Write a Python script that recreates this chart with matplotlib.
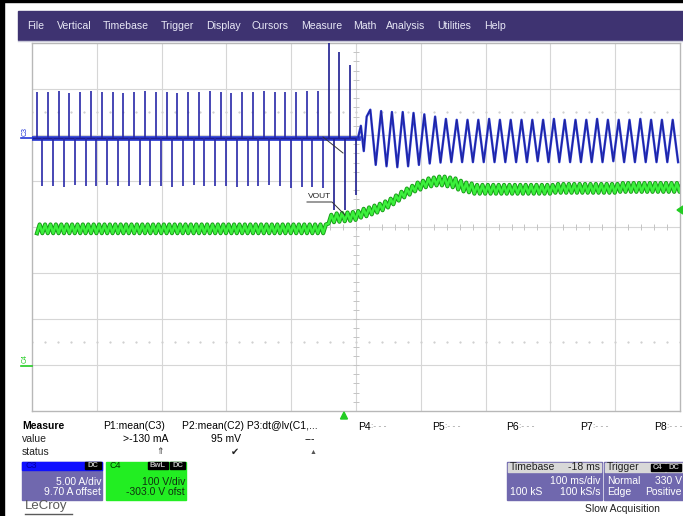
import numpy as np
import matplotlib.pyplot as plt
from matplotlib.patches import Rectangle, Polygon

plt.rcParams['font.family'] = ['Liberation Sans', 'DejaVu Sans']

# ---- labels -------------------------------------------------------------
menu_items = ["File", "Vertical", "Timebase", "Trigger", "Display", "Cursors",
              "Measure", "Math", "Analysis", "Utilities", "Help"]
menu_x = [27, 57, 103, 161, 206, 251, 301, 353, 386, 437, 484]

meas_heads = ["P1:mean(C3)", "P2:mean(C2)", "P3:dt@lv(C1,..."]
meas_values = [">-130 mA", "95 mV", "---"]
more_params = ["P4", "P5", "P6", "P7", "P8"]

# ---- traces --------------------------------------------------------------
# time in ms from left edge of screen (100 ms/div), amplitude in divisions
half_cycle = 8.333          # 60 Hz mains -> one event per half cycle
t_first = 7.7

# C3: line current, pulses alternate up / down around the baseline
c3_base = 1.93
c3_pulse_tips = [2.93, 0.89, 2.93, 0.89, 2.95, 0.87, 2.92, 0.91, 2.93, 0.89,
                 2.95, 0.89, 2.93, 0.91, 2.93, 0.89, 2.92, 0.89, 2.93, 0.91,
                 2.95, 0.89, 2.93, 0.89, 2.93, 0.87, 2.92, 0.89, 2.93, 0.91,
                 2.93, 0.89, 2.95, 0.89, 2.93, 0.89, 2.92, 0.87, 2.93, 0.89,
                 2.93, 0.89, 2.95, 0.91, 2.93, 0.89, 2.93, 0.85, 2.93, 0.87,
                 2.95, 0.87, 2.95, 0.85]
# switch-over spikes
c3_spike_t = [457.7, 466.0, 474.4, 482.7, 491.0, 499.4]
c3_spike_tips = [4.3, 0.37, 3.8, 0.37, 3.52, 0.70]
# ringing right after the switch, then the sine
c3_settle_t = [503.0, 507.5, 512.0, 516.5]
c3_settle = [1.93, 2.20, 1.65, 2.40]
c3_sine_t0 = 522.1
c3_sine_ext = [2.55, 1.35, 2.52, 1.32, 2.50, 1.30, 2.50, 1.32, 2.48, 1.35,
               2.45, 1.38, 2.40, 1.40, 2.35, 1.41, 2.33, 1.41, 2.33, 1.41,
               2.33, 1.41, 2.35, 1.41, 2.33, 1.41, 2.33, 1.41, 2.33, 1.41,
               2.33, 1.43, 2.33, 1.41, 2.35, 1.41, 2.33, 1.41, 2.33, 1.41,
               2.33, 1.41, 2.35, 1.41, 2.33, 1.43, 2.33, 1.41, 2.33, 1.41,
               2.35, 1.41, 2.33, 1.41, 2.33, 1.41, 2.33, 1.41]

# C4: VOUT, centre level of each ripple tooth
c4_ripple = 0.095
c4_levels = ([-0.04] * 54
             + [0.17, 0.20, 0.21, 0.22, 0.23, 0.25]
             + [0.30, 0.33, 0.37, 0.41, 0.46, 0.52, 0.59, 0.67, 0.74, 0.80,
                0.87, 0.91, 0.96, 0.98, 1.00, 1.00, 0.98, 0.96, 0.91, 0.87, 0.85]
             + [0.82] * 15 + [0.84] * 12 + [0.86] * 12)

W, H = 683, 516
fig = plt.figure(figsize=(W / 100, H / 100), dpi=100)
fig.patch.set_facecolor('white')

# grid area in pixels: x 32..680, y 43..411
ax = fig.add_axes([32 / W, 1 - 411 / H, 648 / W, 368 / H])
ax.set_xlim(0, 1000)
ax.set_ylim(-4, 4)
ax.set_xticks([])
ax.set_yticks([])
for s in ax.spines.values():
    s.set_color('#b8b8b8')
    s.set_linewidth(1.0)

gc = '#d6d6d6'
for x in range(100, 1000, 100):
    ax.axvline(x, color=gc, lw=0.8, zorder=0)
for y in range(-3, 4):
    ax.axhline(y, color=gc, lw=0.8, zorder=0)
# centre axis ticks and dotted lines
yt = np.arange(-4, 4.01, 0.2)
ax.hlines(yt, 496, 504, color='#c4c4c4', lw=0.7, zorder=0)
xt = np.arange(0, 1001, 20)
ax.vlines(xt, -0.07, 0.07, color='#c4c4c4', lw=0.7, zorder=0)
for yd in (2.5, -2.5):
    ax.plot(xt, np.full(len(xt), yd), ls='none', marker='s', ms=0.6,
            color='#d0d0d0', zorder=0)

# C4 trace (drawn first, sits under C3)
lev = np.array(c4_levels)
gt = t_first + np.arange(len(lev)) * half_cycle
gx = np.column_stack([gt, gt + half_cycle / 2]).ravel()
gy = np.column_stack([lev - c4_ripple, lev + c4_ripple]).ravel()
ax.plot(gx, gy, color='#179a17', lw=3.0, zorder=2)
ax.plot(gx, gy, color='#3cf03c', lw=1.7, zorder=2)

# C3 trace
blue_dark = '#1e1e90'
blue = '#2a3ad0'
pt = t_first + np.arange(len(c3_pulse_tips)) * half_cycle
ax.plot([0, c3_settle_t[0]], [c3_base, c3_base], color=blue, lw=3.4, zorder=3)
ax.plot([0, c3_settle_t[0]], [c3_base, c3_base], color=blue_dark, lw=1.0, zorder=3)
ax.vlines(pt, c3_base, c3_pulse_tips, color='#2828a8', lw=1.2, zorder=3)
ax.vlines(c3_spike_t, c3_base, c3_spike_tips, color=blue_dark, lw=1.2, zorder=3)
st = c3_sine_t0 + np.arange(len(c3_sine_ext)) * half_cycle
sx = np.concatenate([c3_settle_t, st])
sy = np.concatenate([c3_settle, c3_sine_ext])
ax.plot(sx, sy, color=blue, lw=1.7, zorder=3)
ax.plot(sx, sy, color=blue_dark, lw=0.6, zorder=3)

# ---- overlay in pixel coordinates -------------------------------------
ov = fig.add_axes([0, 0, 1, 1], zorder=5)
ov.set_xlim(0, W)
ov.set_ylim(H, 0)
ov.axis('off')
ov.patch.set_alpha(0)

ov.add_patch(Rectangle((0, 0), 4, H, color='black'))
ov.add_patch(Rectangle((0, 0), W, 2, color='black'))

# menu bar
ov.add_patch(Rectangle((18, 11), W - 18, 29, color='#3e3371'))
ov.plot([18, W], [41, 41], color='#c8c8d8', lw=1)
for x, s in zip(menu_x, menu_items):
    ov.text(x, 26, s, color='#e8e8f6', fontsize=7.6, va='center', ha='left')

# channel markers
ov.text(25, 131, 'C3', color='#2436d8', fontsize=5, rotation=90,
        ha='center', va='center')
ov.plot([21, 32], [138, 138], color='#2436d8', lw=1.2)
ov.text(25, 359, 'C4', color='#22cc22', fontsize=5, rotation=90,
        ha='center', va='center')
ov.plot([21, 32], [366, 366], color='#22cc22', lw=1.2)

# VOUT annotation and pointer lines
ov.text(308, 197, 'VOUT', fontsize=6, color='#222222', va='center')
ov.plot([307, 332, 345], [202, 202, 215], color='#333333', lw=0.7)
ov.plot([323, 343], [137, 153], color='#333333', lw=0.7)

# trigger markers
ov.add_patch(Polygon([[340.5, 419], [347.5, 419], [344, 412]], color='#22cc22'))
ov.add_patch(Polygon([[683, 206], [677, 210], [683, 214]], color='#22cc22'))

# measurement table
fs = 7.5
ov.text(22, 426, 'Measure', fontsize=fs, weight='bold', va='center')
ov.text(22, 439, 'value', fontsize=fs, va='center', color='#222222')
ov.text(22, 452, 'status', fontsize=fs, va='center', color='#222222')
ov.text(103, 426, meas_heads[0], fontsize=fs, va='center')
ov.text(182, 426, meas_heads[1] + ' ' + meas_heads[2], fontsize=fs, va='center')
ov.text(168, 439, meas_values[0], fontsize=fs, va='center', ha='right')
ov.text(241, 439, meas_values[1], fontsize=fs, va='center', ha='right')
ov.text(315, 439, meas_values[2], fontsize=fs, va='center', ha='right')
ov.text(160, 452, '\u21d1', fontsize=6.5, va='center', ha='center', color='#333333')
ov.text(235, 452, '\u2714', fontsize=7, va='center', ha='center', color='#222222')
ov.text(313, 452, '\u25b2', fontsize=5, va='center', ha='center', color='#555555')
for x, p in zip([358, 432, 506, 580, 654], more_params):
    ov.text(x, 427, p, fontsize=fs, va='center')
    ov.text(x + 13, 427, ':- - -', fontsize=6, va='center', color='#888888')


def tag(x0, y0, w, txt):
    ov.add_patch(Rectangle((x0, y0), w, 7, color='black'))
    ov.text(x0 + w / 2, y0 + 3.8, txt, fontsize=5.5, color='#bbbbbb',
            ha='center', va='center', weight='bold')


# C3 descriptor box
purple = '#7068ae'
ov.add_patch(Rectangle((22, 462), 80, 38, color=purple))
ov.add_patch(Rectangle((22, 462), 80, 7.5, color='#1010ff'))
ov.text(25, 465.5, 'C3', fontsize=6.5, color='#0000a0', va='center')
tag(85, 462, 16, 'DC')
ov.text(101, 482, '5.00 A/div', fontsize=fs, color='white', ha='right', va='center')
ov.text(101, 492, '9.70 A offset', fontsize=fs, color='white', ha='right', va='center')

# C4 descriptor box
ov.add_patch(Rectangle((106, 462), 80, 38, color='#22ee22'))
ov.text(110, 465.5, 'C4', fontsize=6.5, color='#003300', va='center')
tag(148, 462, 20, 'BwL')
tag(170, 462, 15, 'DC')
ov.text(185, 482, '100 V/div', fontsize=fs, color='#103010', ha='right', va='center')
ov.text(185, 492, '-303.0 V ofst', fontsize=fs, color='#103010', ha='right', va='center')

ov.text(25, 506, 'LeCroy', fontsize=9.5, color='#5a5a5a', va='center')
ov.plot([25, 72], [514, 514], color='#5a5a5a', lw=1)

# timebase box
ov.add_patch(Rectangle((507, 462), 95, 38, color=purple))
ov.add_patch(Rectangle((508, 463), 93, 9, color='#d8d8d8'))
ov.text(510, 467.5, 'Timebase', fontsize=fs, va='center', color='#222222')
ov.text(600, 467.5, '-18 ms', fontsize=fs, va='center', ha='right', color='#222222')
ov.text(600, 481, '100 ms/div', fontsize=fs, va='center', ha='right', color='white')
ov.text(510, 492, '100 kS', fontsize=fs, va='center', color='white')
ov.text(600, 492, '100 kS/s', fontsize=fs, va='center', ha='right', color='white')

# trigger box
ov.add_patch(Rectangle((604, 462), 79, 38, color=purple))
ov.add_patch(Rectangle((605, 463), 78, 9, color='#d8d8d8'))
ov.text(607, 467.5, 'Trigger', fontsize=fs, va='center', color='#222222')
tag(651, 464, 14, 'C4')
tag(666, 464, 15, 'DC')
ov.text(607, 481, 'Normal', fontsize=fs, va='center', color='white')
ov.text(682, 481, '330 V', fontsize=fs, va='center', ha='right', color='white')
ov.text(607, 492, 'Edge', fontsize=fs, va='center', color='white')
ov.text(682, 492, 'Positive', fontsize=fs, va='center', ha='right', color='white')

ov.text(585, 509, 'Slow Acquisition', fontsize=fs, va='center', color='#222222')

fig.savefig('out.png', dpi=100)
